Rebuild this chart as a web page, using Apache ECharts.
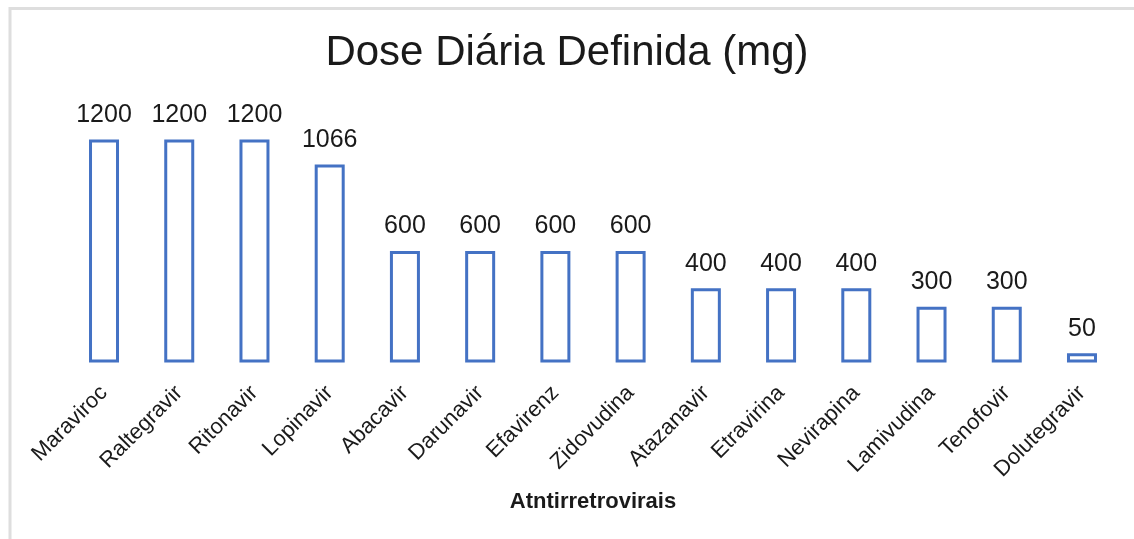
<!DOCTYPE html>
<html>
<head>
<meta charset="utf-8">
<script src="https://cdn.jsdelivr.net/npm/echarts@6/dist/echarts.min.js"></script>
<style>
  html, body { margin: 0; padding: 0; background: #fff; }
  #chart { width: 1134px; height: 539px; }
</style>
</head>
<body>
<div id="chart"></div>
<script>
// antirretrovirais e dose diaria (mg)
var drugNames = ['Maraviroc', 'Raltegravir', 'Ritonavir', 'Lopinavir', 'Abacavir', 'Darunavir', 'Efavirenz',
  'Zidovudina', 'Atazanavir', 'Etravirina', 'Nevirapina', 'Lamivudina', 'Tenofovir', 'Dolutegravir']
var doseValues = [1200, 1200, 1200, 1066, 600, 600, 600, 600, 400, 400, 400, 300, 300, 50]

var chartDom = echarts.init(document.getElementById('chart'))
var option = {
  backgroundColor: '#fff',
  animation: false,
  graphic: [
    {
      type: 'rect',
      shape: { x: 10, y: 8.5, width: 1300, height: 700 },
      style: { fill: 'none', stroke: '#dedede', lineWidth: 3 },
      silent: true
    }
  ],
  title: {
    text: 'Dose Diária Definida (mg)',
    left: 'center',
    top: 27,
    textStyle: {
      fontFamily: 'Liberation Sans',
      fontSize: 42,
      fontWeight: 'normal',
      color: '#1a1a1a'
    }
  },
  grid: {
    left: 66.4,
    right: 14.4,
    top: 139.5,
    bottom: 176.5,
    containLabel: false
  },
  xAxis: {
    type: 'category',
    data: drugNames,
    name: 'Atntirretrovirais',
    nameLocation: 'middle',
    nameGap: 128,
    nameTextStyle: {
      fontFamily: 'Liberation Sans',
      fontSize: 22,
      fontWeight: 'bold',
      color: '#1a1a1a'
    },
    axisLine: { show: false },
    axisTick: { show: false },
    axisLabel: {
      rotate: 45,
      interval: 0,
      margin: 27,
      fontFamily: 'Liberation Sans',
      fontSize: 22,
      color: '#1a1a1a'
    }
  },
  yAxis: {
    type: 'value',
    min: 0,
    max: 1200,
    show: false,
    splitLine: { show: false }
  },
  series: [
    {
      type: 'bar',
      data: doseValues,
      barWidth: 30,
      itemStyle: {
        color: '#fff',
        borderColor: '#4472c4',
        borderWidth: 3
      },
      label: {
        show: true,
        position: 'top',
        distance: 12,
        fontFamily: 'Liberation Sans',
        fontSize: 25,
        color: '#1a1a1a'
      }
    }
  ]
}
chartDom.setOption(option)
</script>
</body>
</html>
